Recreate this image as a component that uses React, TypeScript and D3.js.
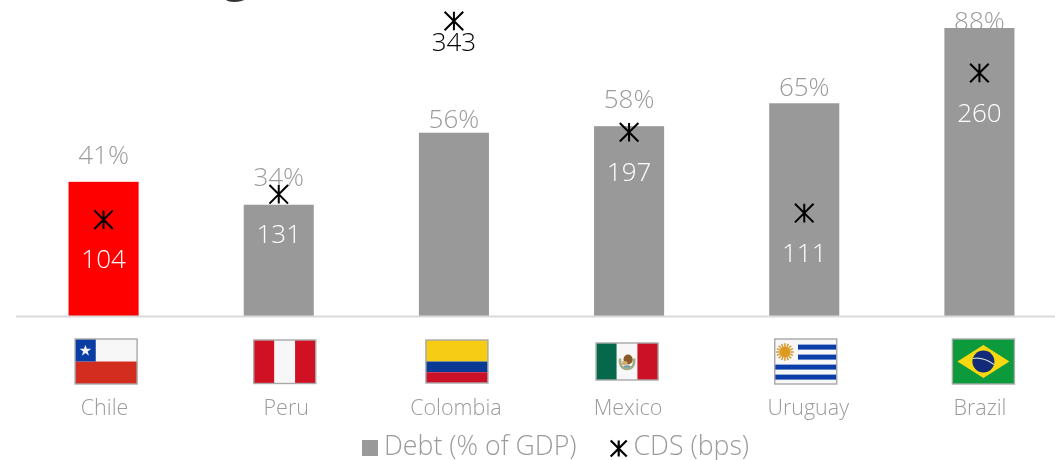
import React from "react";
import * as d3 from "d3";

// Sovereign debt and CDS spreads across six Latin American economies
const countries = ["Chile", "Peru", "Colombia", "Mexico", "Uruguay", "Brazil"];
const debtPct = [41, 34, 56, 58, 65, 88];
const cdsBps = [104, 131, 343, 197, 111, 260];

// Hand placed nudges around the category centres
const flagNudge = [2.5, 6, 3, -2, 1.5, 4];
const nameNudge = [1, 7.5, 2, -1, 4, 0.5];
const cdsLabelGap = [39, 40, 21, 40, 40, 40];
const debtLabelLift = [18, 19, 5, 18, 7, -2];

const W = 1055;
const H = 460;
const FONT = "'Open Sans', 'Noto Sans', sans-serif";
const GREY = "#9b9b9b";
const BAR = "#999999";

function Flag({ name, x, y, w, h }: { name: string; x: number; y: number; w: number; h: number }) {
  const border = <rect x={x} y={y} width={w} height={h} fill="none" stroke="#a8a8a8" strokeWidth={1.4} />;
  let body: React.ReactNode = null;
  if (name === "Chile") {
    const star = d3.symbol(d3.symbolStar, 42)();
    body = (
      <>
        <rect x={x} y={y} width={w} height={h / 2} fill="#f7f7f7" />
        <rect x={x} y={y + h / 2} width={w} height={h / 2} fill="#d22d1e" />
        <rect x={x} y={y} width={w / 3} height={h / 2} fill="#0a3da3" />
        <path d={star ?? ""} transform={`translate(${x + w / 6},${y + h / 4 + 0.5})`} fill="#f4f4f4" />
      </>
    );
  } else if (name === "Peru" || name === "Mexico") {
    const side = name === "Peru" ? "#d01023" : "#ca1126";
    const hoist = name === "Peru" ? side : "#05684a";
    const ecx = x + w / 2;
    const ecy = y + h / 2;
    body = (
      <>
        <rect x={x} y={y} width={w / 3} height={h} fill={hoist} />
        <rect x={x + w / 3} y={y} width={w / 3} height={h} fill="#f7f7f7" />
        <rect x={x + (2 * w) / 3} y={y} width={w / 3} height={h} fill={side} />
        {name === "Mexico" && (
          <>
            <path
              d={`M${ecx - 7},${ecy - 3} Q${ecx - 8},${ecy + 7} ${ecx},${ecy + 7.5} Q${ecx + 8},${ecy + 7} ${ecx + 7},${ecy - 3}`}
              fill="none"
              stroke="#9fae86"
              strokeWidth={2.6}
            />
            <ellipse cx={ecx + 1} cy={ecy - 2} rx={4.6} ry={5} fill="#8a5a2a" />
            <ellipse cx={ecx - 2.5} cy={ecy + 1.5} rx={3} ry={2} fill="#d2ab6a" />
            <ellipse cx={ecx} cy={ecy + 5} rx={3.5} ry={1.3} fill="#6f9ea0" />
          </>
        )}
      </>
    );
  } else if (name === "Colombia") {
    body = (
      <>
        <rect x={x} y={y} width={w} height={h / 2} fill="#f6cd14" />
        <rect x={x} y={y + h / 2} width={w} height={h / 4} fill="#0b3a94" />
        <rect x={x} y={y + (3 * h) / 4} width={w} height={h / 4} fill="#cb1128" />
      </>
    );
  } else if (name === "Uruguay") {
    const stripe = h / 9;
    const sun = d3.range(16).map((i) => (i * 360) / 16);
    const cx = x + (w * 2) / 13.5 + 1;
    const cy = y + stripe * 2.6;
    body = (
      <>
        <rect x={x} y={y} width={w} height={h} fill="#f7f7f7" />
        {[1, 3, 5, 7].map((k) => (
          <rect key={k} x={k < 4 ? x + w * 0.375 : x} y={y + stripe * k + 0.6} width={k < 4 ? w * 0.625 : w} height={stripe} fill="#0b3ea8" />
        ))}
        {sun.map((a) => (
          <line
            key={a}
            x1={cx}
            y1={cy}
            x2={cx + 8.8 * Math.cos((a * Math.PI) / 180)}
            y2={cy + 8.8 * Math.sin((a * Math.PI) / 180)}
            stroke="#d4982e"
            strokeWidth={1.5}
          />
        ))}
        <circle cx={cx} cy={cy} r={5} fill="#dd9a1e" />
      </>
    );
  } else if (name === "Brazil") {
    const cx = x + w / 2;
    const cy = y + h / 2;
    const poly = [
      [x + 5, cy],
      [cx, y + 6],
      [x + w - 5, cy],
      [cx, y + h - 6],
    ]
      .map((p) => p.join(","))
      .join(" ");
    body = (
      <>
        <rect x={x} y={y} width={w} height={h} fill="#0d9a3c" />
        <polygon points={poly} fill="#f8d90f" />
        <circle cx={cx} cy={cy} r={11} fill="#122a78" />
        <path d={`M${cx - 10.5},${cy - 3} Q${cx},${cy - 5} ${cx + 10.5},${cy + 3}`} fill="none" stroke="#c9d8d0" strokeWidth={1.2} />
      </>
    );
  }
  return (
    <g>
      {body}
      {border}
    </g>
  );
}

function Asterisk({ x, y, r, stroke = 2 }: { x: number; y: number; r: number; stroke?: number }) {
  const d = `M${x - r},${y - r}L${x + r},${y + r}M${x - r},${y + r}L${x + r},${y - r}M${x},${y - r}L${x},${y + r}`;
  return <path d={d} fill="none" stroke="#000" strokeWidth={stroke} />;
}

// Flag boxes share a width; their heights follow each flag's proportions
const flagBoxes: Record<string, [number, number]> = {
  Chile: [339, 45],
  Peru: [340, 43.5],
  Colombia: [340, 43],
  Mexico: [343, 37],
  Uruguay: [339, 45],
  Brazil: [339, 45],
};

export default function App() {
  const x = d3.scaleBand<string>().domain(countries).range([16, 1067]).paddingInner(0.6).paddingOuter(0.3);
  const yDebt = d3.scaleLinear().domain([0, 88]).range([316, 28]);
  // Colombia's spread runs off the common scale, so the top segment is compressed
  const yCds = d3.scaleLinear().domain([0, 260, 343]).range([317.5, 73, 21]);

  return (
    <svg
      width={W}
      height={H}
      viewBox={`0 0 ${W} ${H}`}
      style={{ position: "absolute", left: 0, top: 0, willChange: "opacity" }}
      fontFamily={FONT}
    >
      {/* Bottom of the heading that sits above the chart */}
      <text x={222} y={-10} fontSize={52} fontFamily={FONT} fill="#333333">
        g
      </text>

      {/* Debt labels go first: the tallest bar overlaps its own label */}
      {countries.map((c, i) => {
        const cx = (x(c) ?? 0) + x.bandwidth() / 2;
        return (
          <text key={c} x={cx} y={yDebt(debtPct[i]) - debtLabelLift[i]} textAnchor="middle" fontSize={26} fontWeight={300} fill={GREY}>
            {debtPct[i]}%
          </text>
        );
      })}

      {countries.map((c, i) => {
        const bx = x(c) ?? 0;
        const top = yDebt(debtPct[i]);
        return <rect key={c} x={bx} y={top} width={x.bandwidth()} height={316 - top} fill={c === "Chile" ? "#ff0000" : BAR} />;
      })}

      {countries.map((c, i) => {
        const bx = x(c) ?? 0;
        const cx = bx + x.bandwidth() / 2;
        const cy = yCds(cdsBps[i]);
        const [fy, fh] = flagBoxes[c];
        const fw = 62;
        const fcx = cx + flagNudge[i];
        return (
          <g key={c}>
            <text
              x={cx}
              y={cy + cdsLabelGap[i] + 9}
              textAnchor="middle"
              fontSize={26}
              fontWeight={300}
              fill={c === "Colombia" ? "#000" : "#fff"}
            >
              {cdsBps[i]}
            </text>
            <Asterisk x={cx} y={cy} r={9.3} />
            <Flag name={c} x={fcx - fw / 2} y={fy} w={fw} h={fh} />
            <text x={cx + nameNudge[i]} y={415} textAnchor="middle" fontSize={21.5} fontWeight={300} fill={GREY}>
              {c}
            </text>
          </g>
        );
      })}

      <line x1={16} x2={W} y1={316.5} y2={316.5} stroke="#d9d9d9" strokeWidth={2} />

      <rect x={362} y={440} width={16} height={16} fill={BAR} />
      <text x={384} y={455} fontSize={26.7} fontWeight={300} fill={GREY}>
        Debt (% of GDP)
      </text>
      <Asterisk x={618.7} y={448.5} r={8} stroke={2.2} />
      <text x={633.5} y={455} fontSize={26.7} fontWeight={300} fill={GREY}>
        CDS (bps)
      </text>
    </svg>
  );
}
